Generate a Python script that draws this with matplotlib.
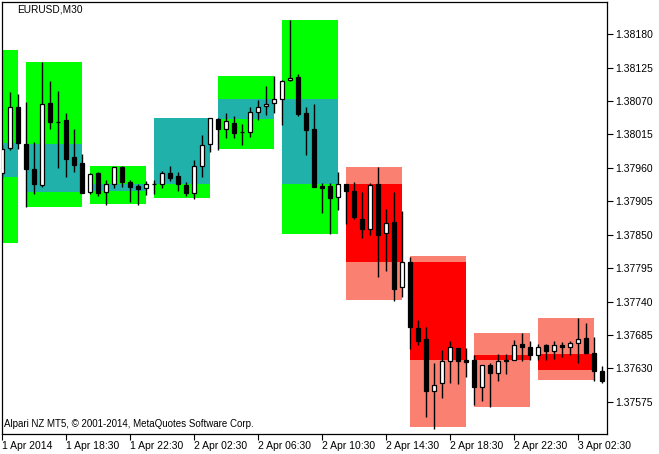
import numpy as np
import matplotlib
matplotlib.use("Agg")
import matplotlib.pyplot as plt

plt.rcParams['font.family'] = ['Liberation Sans', 'DejaVu Sans']

# M30 candles, EURUSD
opens = [1.37951, 1.37993, 1.38060, 1.37999, 1.37958, 1.37932, 1.38067, 1.38035, 1.38039, 1.37978,
         1.37968, 1.37920, 1.37951, 1.37920, 1.37933, 1.37961, 1.37937, 1.37930, 1.37927, 1.37933,
         1.37933, 1.37951, 1.37946, 1.37932, 1.37919, 1.37963, 1.37999, 1.38040, 1.38024, 1.38034,
         1.38019, 1.38019, 1.38052, 1.38062, 1.38067, 1.38073, 1.38104, 1.38109, 1.38050, 1.38024,
         1.37930, 1.37930, 1.37912, 1.37933, 1.37922, 1.37876, 1.37859, 1.37933, 1.37853, 1.37871,
         1.37764, 1.37805, 1.37697, 1.37678, 1.37593, 1.37606, 1.37642, 1.37664, 1.37644, 1.37644,
         1.37600, 1.37636, 1.37623, 1.37644, 1.37644, 1.37670, 1.37665, 1.37652, 1.37669, 1.37659,
         1.37669, 1.37665, 1.37672, 1.37680, 1.37655, 1.37626]
highs = [1.37998, 1.38085, 1.38081, 1.38068, 1.38002, 1.38134, 1.38103, 1.38086, 1.38050, 1.38024,
         1.37983, 1.37951, 1.37953, 1.37940, 1.37961, 1.37963, 1.37940, 1.37933, 1.37938, 1.37940,
         1.37955, 1.37963, 1.37953, 1.37937, 1.37973, 1.38014, 1.38042, 1.38042, 1.38050, 1.38045,
         1.38032, 1.38060, 1.38072, 1.38095, 1.38111, 1.38104, 1.38203, 1.38114, 1.38060, 1.38065,
         1.37935, 1.37935, 1.37953, 1.37933, 1.37937, 1.37920, 1.37935, 1.37961, 1.37892, 1.37920,
         1.37889, 1.37813, 1.37710, 1.37698, 1.37639, 1.37660, 1.37675, 1.37664, 1.37664, 1.37652,
         1.37636, 1.37639, 1.37654, 1.37654, 1.37677, 1.37688, 1.37675, 1.37670, 1.37670, 1.37675,
         1.37674, 1.37675, 1.37713, 1.37705, 1.37682, 1.37634]
lows = [1.37943, 1.37989, 1.37991, 1.37895, 1.37917, 1.37928, 1.38024, 1.37960, 1.37945, 1.37953,
        1.37919, 1.37917, 1.37914, 1.37899, 1.37927, 1.37928, 1.37904, 1.37899, 1.37915, 1.37917,
        1.37927, 1.37938, 1.37922, 1.37914, 1.37909, 1.37945, 1.37986, 1.37989, 1.38009, 1.38009,
        1.37998, 1.38011, 1.38039, 1.38047, 1.38050, 1.38030, 1.38103, 1.38045, 1.37981, 1.37928,
        1.37886, 1.37851, 1.37891, 1.37868, 1.37876, 1.37845, 1.37849, 1.37780, 1.37790, 1.37741,
        1.37748, 1.37662, 1.37669, 1.37550, 1.37530, 1.37581, 1.37606, 1.37604, 1.37616, 1.37570,
        1.37576, 1.37567, 1.37609, 1.37621, 1.37644, 1.37642, 1.37644, 1.37644, 1.37644, 1.37646,
        1.37649, 1.37652, 1.37639, 1.37655, 1.37609, 1.37606]
closes = [1.37991, 1.38060, 1.38001, 1.37958, 1.37933, 1.38065, 1.38035, 1.38035, 1.37975, 1.37965,
          1.37919, 1.37950, 1.37919, 1.37933, 1.37961, 1.37937, 1.37928, 1.37925, 1.37933, 1.37933,
          1.37951, 1.37943, 1.37933, 1.37919, 1.37963, 1.37998, 1.38042, 1.38024, 1.38037, 1.38017,
          1.38019, 1.38052, 1.38060, 1.38065, 1.38073, 1.38103, 1.38108, 1.38049, 1.38022, 1.37928,
          1.37927, 1.37910, 1.37933, 1.37922, 1.37879, 1.37859, 1.37932, 1.37849, 1.37869, 1.37761,
          1.37805, 1.37698, 1.37675, 1.37593, 1.37603, 1.37642, 1.37665, 1.37642, 1.37641, 1.37600,
          1.37636, 1.37623, 1.37642, 1.37642, 1.37669, 1.37665, 1.37652, 1.37665, 1.37659, 1.37669,
          1.37665, 1.37672, 1.37678, 1.37655, 1.37626, 1.37609]

# H4 boxes: first bar index, range and open/close band
box_start = [-5, 3, 11, 19, 27, 35, 43, 51, 59, 67]
box_high = [1.38154, 1.38134, 1.37963, 1.38042, 1.38111, 1.38203, 1.37961, 1.37815, 1.37688, 1.37713]
box_low = [1.37836, 1.37895, 1.37900, 1.37910, 1.37991, 1.37851, 1.37743, 1.37534, 1.37567, 1.37611]
box_open = [1.37945, 1.37999, 1.37922, 1.37933, 1.38040, 1.38073, 1.37933, 1.37805, 1.37652, 1.37654]
box_close = [1.38001, 1.37920, 1.37933, 1.38042, 1.38073, 1.37933, 1.37805, 1.37644, 1.37644, 1.37627]
box_up = [True, True, True, True, True, True, False, False, False, False]

yticks = [1.38180, 1.38125, 1.38070, 1.38015, 1.37960, 1.37905, 1.37850,
          1.37795, 1.37740, 1.37685, 1.37630, 1.37575]
xtick_pos = [0, 8, 16, 24, 32, 40, 48, 56, 64, 72]
xtick_lab = ["1 Apr 2014", "1 Apr 18:30", "1 Apr 22:30", "2 Apr 02:30", "2 Apr 06:30",
             "2 Apr 10:30", "2 Apr 14:30", "2 Apr 18:30", "2 Apr 22:30", "3 Apr 02:30"]

fig = plt.figure(figsize=(6.59, 4.54), dpi=100)
ax = fig.add_axes([2/659, 20/454, 605/659, 432/454])

# boxes
for k in range(len(box_start)):
    outer = "#00ff00" if box_up[k] else "#fa8072"
    inner = "#20b2aa" if box_up[k] else "#ff0000"
    ax.bar(box_start[k], box_high[k] - box_low[k], width=7, bottom=box_low[k],
           align="edge", color=outer, linewidth=0, zorder=1)
    lo = min(box_open[k], box_close[k])
    ax.bar(box_start[k], abs(box_close[k] - box_open[k]), width=7, bottom=lo,
           align="edge", color=inner, linewidth=0, zorder=2)

# candles
o = np.array(opens); h = np.array(highs); l = np.array(lows); c = np.array(closes)
x = np.arange(len(o))
ax.vlines(x, l, h, color="black", linewidth=1.0, zorder=3)
up = c >= o
ax.bar(x[up], c[up] - o[up], bottom=o[up], width=0.62, color="white",
       edgecolor="black", linewidth=0.9, zorder=4)
ax.bar(x[~up], o[~up] - c[~up], bottom=c[~up], width=0.62, color="black",
       edgecolor="black", linewidth=0.9, zorder=4)

ax.set_xlim(0, 75.625)
ax.set_ylim(1.37522, 1.38233)

ax.yaxis.tick_right()
ax.set_yticks(yticks)
ax.set_yticklabels(["%.5f" % v for v in yticks])
ax.set_xticks(xtick_pos)
ax.set_xticklabels(xtick_lab, ha="left")
ax.tick_params(axis="both", direction="out", length=4, width=0.8, colors="black",
               labelsize=7.5, pad=1)
ax.tick_params(axis="y", pad=2)
for s in ax.spines.values():
    s.set_linewidth(0.9)
    s.set_color("black")

ax.text(15/605, 1 - 8/432, "EURUSD,M30", transform=ax.transAxes, fontsize=7.3,
        ha="left", va="center")
ax.text(2/605, 10/432, "Alpari NZ MT5, \u00a9 2001-2014, MetaQuotes Software Corp.",
        transform=ax.transAxes, fontsize=7, ha="left", va="center")

fig.savefig("out.png", dpi=100)
